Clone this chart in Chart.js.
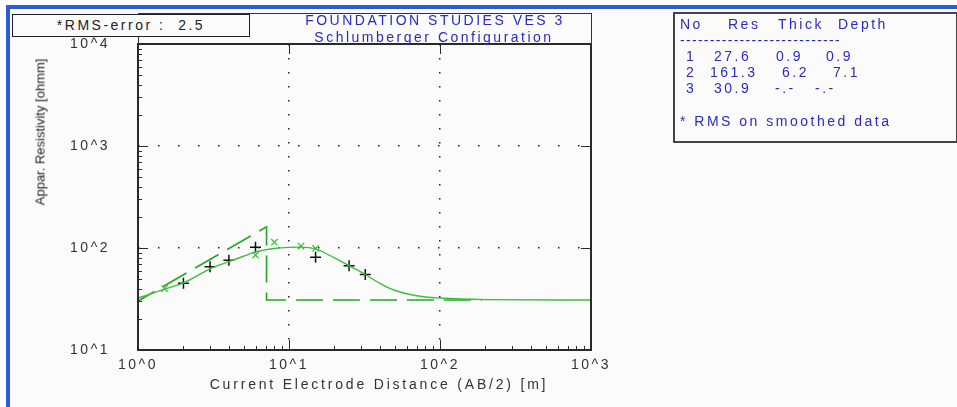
<!DOCTYPE html>
<html>
<head>
<meta charset="utf-8">
<script src="https://cdn.jsdelivr.net/npm/chart.js@4.4.0/dist/chart.umd.min.js"></script>
<style>
  body { margin: 0; width: 957px; height: 407px; overflow: hidden; background: #fbfbfb; position: relative;
         font-family: "Liberation Sans", Arial, sans-serif; }
  #c { position: absolute; left: 0; top: 0; }
  .abs { position: absolute; white-space: pre; }
  .blue { position: absolute; background: #2d5ad6; }
  .txt { font-size: 14px; line-height: 16px; letter-spacing: 2.5px; }
  .bl { color: #2a2ac4; }
</style>
</head>
<body>
<canvas id="c" width="957" height="407"></canvas>

<!-- window edge -->
<div class="blue" style="left:0;top:0;width:957px;height:5px;background:#fff"></div>
<div class="blue" style="left:0;top:0;width:6px;height:407px;background:#fff"></div>
<div class="blue" style="left:6px;top:5px;width:951px;height:4px"></div>
<div class="blue" style="left:6px;top:5px;width:4px;height:402px"></div>

<!-- box above the plot with title -->
<div class="abs" style="left:138px;top:13px;width:452px;height:31px;border:1px solid #333;border-bottom:none"></div>
<div class="abs txt bl" style="left:435px;top:12px;transform:translateX(-50%)">FOUNDATION STUDIES VES 3</div>
<div class="abs txt bl" style="left:434px;top:29px;transform:translateX(-50%)">Schlumberger Configuration</div>

<!-- rms box -->
<div class="abs txt" id="rmsBox" style="left:12px;top:14px;width:236px;height:21px;border:1.5px solid #222;background:#fbfbfb;color:#222;text-align:center;line-height:21px"></div>

<!-- axis titles -->
<div class="abs" id="yTitle" style="left:40px;top:132px;transform:translate(-50%,-50%) rotate(-90deg);font-size:13px;color:#222"></div>
<div class="abs txt" id="xTitle" style="left:379px;top:376px;transform:translateX(-50%);color:#333;letter-spacing:2.8px"></div>

<!-- model table -->
<div class="abs" id="tbl" style="left:673px;top:12px;width:281px;height:127px;border:2px solid #444"></div>

<script>
// titles
const chartTitle = ['FOUNDATION STUDIES VES 3', 'Schlumberger Configuration'];
const rmsText = '*RMS-error :  2.5';
const xAxisTitle = 'Current Electrode Distance (AB/2) [m]';
const yAxisTitle = 'Appar. Resistivity [ohmm]';

// axis decades and tick labels
const xDecades = [1, 10, 100, 1000];
const xTickLabels = ['10^0', '10^1', '10^2', '10^3'];
const yDecades = [10, 100, 1000, 10000];
const yTickLabels = ['10^1', '10^2', '10^3', '10^4'];

// field data (AB/2, apparent resistivity)
const obsAB = [2, 3, 4, 6, 15, 25, 32];
const obsRho = [45, 65.5, 76, 101.5, 81, 67, 55];

// smoothed data
const smAB = [1.5, 6, 8, 12, 15];
const smRho = [40, 85, 114, 104.5, 99];

// calculated curve
const curveAB = [1, 1.5, 2, 3, 4, 5, 6, 8, 10, 12, 15, 20, 25, 32, 40, 50, 70, 100, 200, 1000];
const curveRho = [32.3, 39.5, 45.5, 62.5, 73.5, 83, 91.5, 99, 101.5, 102, 98, 80, 67, 55, 45, 38.5, 34, 32.3, 31.2, 30.9];

// layered model (depth, resistivity)
const modelDepth = [0.9, 7.1, 7.1, 190];
const modelRes = [27.6, 161.3, 30.9, 30.9];

// model table
const tblHeader = ['No', 'Res', 'Thick', 'Depth'];
const tblRows = [
    ['1', '27.6', '0.9', '0.9'],
    ['2', '161.3', '6.2', '7.1'],
    ['3', '30.9', '-.-', '-.-']
];
const tblNote = '* RMS on smoothed data';

document.getElementById('rmsBox').textContent = rmsText;
document.getElementById('xTitle').textContent = xAxisTitle;
document.getElementById('yTitle').textContent = yAxisTitle;

// table text, placed like the original fixed text
function ponerTexto(txt, x, y, extra) {
    const d = document.createElement('div');
    d.className = 'abs txt bl';
    d.style.left = x + 'px';
    d.style.top = (y - 8) + 'px';
    if (extra) d.style.letterSpacing = extra;
    d.textContent = txt;
    document.body.appendChild(d);
}
const headX = [680, 728, 778, 838];
tblHeader.forEach((h, i) => ponerTexto(h, headX[i], 24));
ponerTexto('-'.repeat(27), 680, 40, '1.3px');
const cellX = [
    [686, 714, 776, 826],
    [686, 710, 782, 833],
    [686, 714, 775, 815]
];
tblRows.forEach((r, j) => r.forEach((c, i) => ponerTexto(c, cellX[j][i], 56 + j * 16)));
ponerTexto(tblNote, 680, 121);

function pares(xs, ys) {
    return xs.map((v, i) => ({ x: v, y: ys[i] }));
}

// letter spacing for canvas text (ticks)
const espaciado = {
    id: 'espaciado',
    beforeDraw(chart) { chart.ctx.letterSpacing = '2.5px'; }
};

// frame and inward tick marks
const marco = {
    id: 'marco',
    afterDraw(chart) {
        const ctx = chart.ctx;
        const a = chart.chartArea;
        const x = chart.scales.x, y = chart.scales.y;
        ctx.save();
        ctx.strokeStyle = '#2a2a2a';
        ctx.lineWidth = 2;
        ctx.strokeRect(a.left, a.top, a.right - a.left, a.bottom - a.top);
        ctx.lineWidth = 1;
        function linea(x1, y1, x2, y2) {
            ctx.beginPath(); ctx.moveTo(x1, y1); ctx.lineTo(x2, y2); ctx.stroke();
        }
        xDecades.forEach((d, i) => {
            const px = Math.round(x.getPixelForValue(d)) + 0.5;
            linea(px, a.bottom, px, a.bottom - 10);
            linea(px, a.top, px, a.top + 10);
            if (i < xDecades.length - 1) {
                for (let m = 2; m <= 9; m++) {
                    const pm = Math.round(x.getPixelForValue(d * m)) + 0.5;
                    linea(pm, a.bottom, pm, a.bottom - 4);
                }
            }
        });
        yDecades.forEach((d, i) => {
            const py = Math.round(y.getPixelForValue(d)) + 0.5;
            linea(a.left, py, a.left + 10, py);
            linea(a.right, py, a.right - 10, py);
            if (i < yDecades.length - 1) {
                for (let m = 2; m <= 9; m++) {
                    const pm = Math.round(y.getPixelForValue(d * m)) + 0.5;
                    linea(a.left, pm, a.left + 4, pm);
                }
            }
        });
        ctx.restore();
    }
};

const fuente = { family: '"Liberation Sans", Arial, sans-serif', size: 14 };

new Chart(document.getElementById('c'), {
    type: 'line',
    data: {
        datasets: [
            {
                label: 'curve',
                data: pares(curveAB, curveRho),
                borderColor: '#3cbf3c',
                borderWidth: 1.4,
                pointRadius: 0,
                cubicInterpolationMode: 'monotone',
                fill: false
            },
            {
                label: 'model',
                data: pares(modelDepth, modelRes),
                borderColor: '#1faa1f',
                borderWidth: 1.6,
                borderDash: [27, 10],
                pointRadius: 0,
                tension: 0,
                fill: false
            },
            {
                label: 'smoothed',
                data: pares(smAB, smRho),
                showLine: false,
                pointStyle: 'crossRot',
                pointRadius: 4.5,
                pointBorderColor: '#3cbf3c',
                pointBorderWidth: 1.3
            },
            {
                label: 'field',
                data: pares(obsAB, obsRho),
                showLine: false,
                pointStyle: 'cross',
                pointRadius: 5.5,
                pointBorderColor: '#111',
                pointBorderWidth: 1.5
            }
        ]
    },
    options: {
        responsive: false,
        animation: false,
        layout: { padding: { top: 44, right: 366, left: 0, bottom: 0 } },
        plugins: { legend: { display: false }, tooltip: { enabled: false } },
        scales: {
            x: {
                type: 'logarithmic',
                min: 1,
                max: 1000,
                afterBuildTicks: s => { s.ticks = xDecades.map(v => ({ value: v })); },
                afterFit: s => { s.height = 57; },
                ticks: {
                    autoSkip: false,
                    maxRotation: 0,
                    padding: 7,
                    color: '#333',
                    font: fuente,
                    callback: (v, i) => xTickLabels[i]
                },
                grid: {
                    drawTicks: false,
                    color: c => (c.index > 0 && c.index < xDecades.length - 1) ? '#222' : 'rgba(0,0,0,0)',
                    lineWidth: 1.5
                },
                border: { display: false, dash: [1.5, 12.5] }
            },
            y: {
                type: 'logarithmic',
                min: 10,
                max: 10000,
                afterBuildTicks: s => { s.ticks = yDecades.map(v => ({ value: v })); },
                afterFit: s => { s.width = 138; },
                ticks: {
                    autoSkip: false,
                    padding: 28,
                    color: '#333',
                    font: fuente,
                    callback: (v, i) => yTickLabels[i]
                },
                grid: {
                    drawTicks: false,
                    color: c => (c.index > 0 && c.index < yDecades.length - 1) ? '#222' : 'rgba(0,0,0,0)',
                    lineWidth: 1.5
                },
                border: { display: false, dash: [1.5, 18.5] }
            }
        }
    },
    plugins: [espaciado, marco]
});
</script>
</body>
</html>
